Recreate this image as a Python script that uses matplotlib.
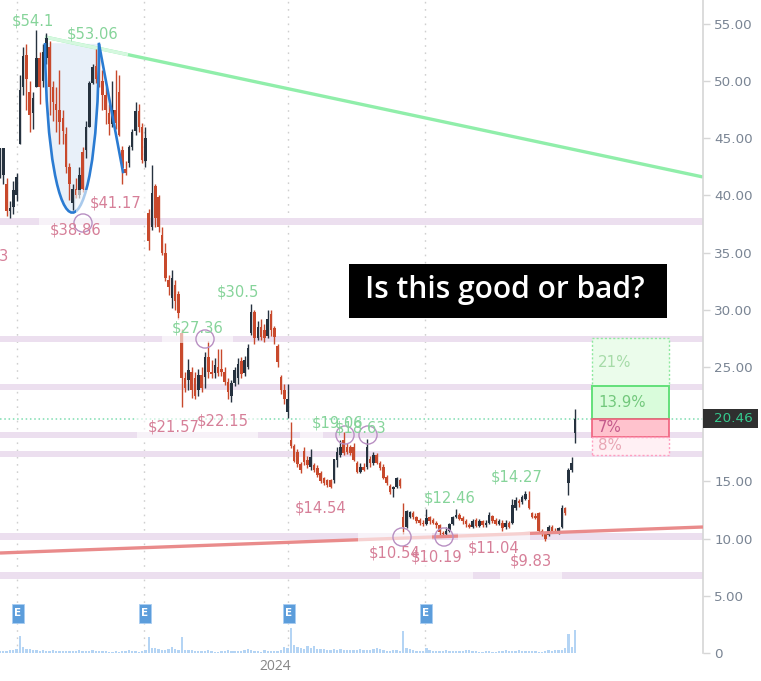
import matplotlib
matplotlib.use("Agg")
import matplotlib.pyplot as plt
from matplotlib.patches import Rectangle, PathPatch
from matplotlib.path import Path
from matplotlib.transforms import blended_transform_factory
import numpy as np

opens = [41.5,41.8,41.0,38.6,39.0,40.0,44.5,49.5,52.3,49.0,
47.2,49.5,52.0,50.0,52.0,53.0,49.5,48.0,47.5,46.8,
45.4,42.5,39.3,40.6,40.0,43.8,44.0,46.0,49.8,51.3,
52.3,50.0,48.8,47.2,46.2,47.5,49.0,44.0,42.3,42.8,
44.2,45.6,47.4,46.0,43.0,38.5,37.2,40.8,39.9,36.5,
35.0,32.6,31.0,32.2,31.4,28.0,24.0,23.9,24.6,24.0,
23.0,24.3,24.1,25.9,24.6,24.5,25.0,24.8,24.6,23.7,
22.5,23.6,24.0,25.5,24.5,25.0,28.0,29.8,27.5,28.5,
28.2,27.7,29.6,28.4,26.8,24.1,23.0,21.1,18.6,18.1,
17.6,16.5,17.7,16.9,16.3,16.4,16.2,15.7,15.3,15.1,
15.1,15.1,16.9,17.3,18.6,18.0,18.0,18.0,16.6,15.8,
16.3,16.3,17.0,16.6,17.3,16.6,16.3,15.4,14.6,14.3,
14.5,15.1,11.9,11.0,11.9,12.2,11.9,11.6,11.4,11.3,
11.9,11.6,11.4,11.2,10.5,10.4,10.7,11.3,11.9,12.1,
11.8,11.5,11.2,11.0,11.6,11.1,11.5,11.2,11.4,12.0,
11.6,11.3,11.4,11.0,11.4,11.4,12.7,13.3,13.2,13.5,
13.4,12.2,12.0,12.2,10.7,10.4,10.3,11.0,10.7,10.5,
11.0,12.7,14.9,16.0,19.2]
closes = [44.1,44.1,38.6,38.9,40.5,41.6,49.2,52.2,50.2,47.0,
48.5,52.0,49.5,52.5,53.8,49.5,48.2,47.5,46.4,45.6,
42.5,41.0,40.6,40.0,41.8,40.6,46.0,49.8,51.2,50.2,
49.8,48.8,47.5,46.2,47.5,46.3,45.3,42.4,42.0,44.2,
45.5,47.4,46.0,43.1,45.0,36.0,40.2,38.0,37.2,35.0,
32.8,32.0,32.8,30.8,29.7,24.0,23.2,24.7,23.0,22.5,
24.3,23.2,25.9,24.6,24.4,25.2,24.5,24.6,23.7,22.8,
23.6,24.7,25.3,24.4,25.6,26.7,29.8,27.5,28.5,27.6,
27.5,29.2,28.2,27.6,25.4,23.0,22.2,22.2,18.1,16.8,
16.5,16.0,16.7,16.4,17.1,16.0,15.6,15.0,14.9,14.7,
14.5,17.0,17.6,18.0,17.5,17.6,17.5,16.9,15.8,16.3,
16.0,18.0,16.6,17.3,16.6,16.2,15.3,14.9,14.1,14.5,
15.3,14.6,11.0,12.4,12.3,11.9,11.5,11.4,11.3,11.8,
11.5,11.4,11.2,10.6,10.4,10.7,11.3,11.9,12.1,11.7,
11.5,11.3,11.0,11.5,11.1,11.5,11.2,11.4,12.1,11.5,
11.3,11.5,10.9,11.4,11.0,12.9,13.4,13.1,13.6,13.9,
12.7,11.9,11.8,10.7,10.5,10.0,11.0,10.6,10.6,10.9,
12.7,12.2,16.0,16.6,20.46]
highs = [44.1,44.1,41.5,39.5,41.3,42.0,50.5,53.0,53.2,50.0,
49.0,54.5,52.5,53.2,54.2,53.5,50.0,49.5,51.0,47.5,
46.0,42.8,41.0,41.5,42.5,44.2,46.5,50.0,51.5,52.8,
53.1,51.0,49.5,48.0,50.0,51.0,50.5,44.3,43.0,44.4,
45.8,48.2,48.0,46.3,46.0,38.8,42.7,41.0,40.0,37.2,
35.8,33.0,33.5,32.6,31.6,28.3,24.6,25.7,25.0,24.6,
24.8,25.0,26.3,27.3,25.6,25.8,26.6,26.6,25.0,24.0,
23.9,25.0,25.8,25.9,26.0,27.0,30.5,30.0,29.0,29.2,
28.8,30.0,30.0,28.6,27.0,24.3,23.5,23.5,20.2,18.3,
17.8,16.7,18.0,17.2,17.8,16.6,16.4,15.9,15.4,15.2,
15.2,17.0,18.0,18.6,19.3,18.4,18.2,18.4,16.8,16.6,
16.6,18.7,17.2,17.6,17.5,16.8,16.5,15.6,14.8,14.6,
15.4,15.3,13.1,12.5,12.4,12.4,12.0,11.8,11.6,12.6,
12.0,11.8,11.5,11.3,10.7,11.0,11.4,12.0,12.6,12.2,
12.0,11.7,11.4,11.7,11.8,11.7,11.6,11.6,12.3,12.1,
11.8,11.7,11.6,11.6,11.5,13.5,13.6,13.5,13.8,14.2,
14.2,12.3,12.2,12.3,10.8,10.6,11.2,11.2,10.9,11.0,
12.9,12.8,16.2,17.1,21.3]
lows = [41.5,41.0,38.2,38.0,38.4,39.5,44.5,48.8,47.5,45.5,
45.8,49.5,48.0,49.5,51.5,47.0,46.5,45.5,44.5,44.5,
42.0,39.6,38.7,39.8,39.8,40.3,43.3,46.0,49.7,49.8,
49.5,47.5,46.2,45.3,46.0,45.8,45.2,41.0,41.8,42.5,
44.0,45.3,45.5,42.8,42.5,35.2,37.0,37.2,36.8,34.8,
32.5,31.3,30.2,30.0,29.2,21.5,22.8,23.0,22.3,22.2,
22.5,22.8,23.2,24.0,24.0,24.0,24.2,24.2,23.4,22.2,
21.9,23.3,23.5,24.0,24.2,24.8,27.8,27.0,27.4,27.4,
27.2,27.5,27.7,27.0,25.0,22.6,21.8,20.5,17.9,16.7,
16.3,15.7,16.4,16.2,16.0,15.8,15.4,14.9,14.7,14.5,
14.4,14.9,16.3,17.1,17.3,17.4,17.3,16.8,15.7,15.7,
15.9,16.1,16.3,16.4,16.5,16.0,15.2,14.7,13.9,13.6,
14.4,14.4,10.4,10.9,11.8,11.7,11.4,11.2,11.1,11.2,
11.3,11.3,10.9,10.3,10.1,10.2,10.6,11.2,11.8,11.6,
11.3,11.0,10.9,10.9,11.0,11.0,11.0,11.0,11.3,11.4,
11.2,11.2,10.7,10.8,10.9,11.3,12.5,12.8,13.0,13.4,
12.6,11.8,11.7,10.6,10.2,9.83,10.2,10.5,10.5,10.4,
10.9,12.1,13.8,15.8,18.4]
volumes = [2,2,2,3,3,4,17,6,4,4,
3,3,2,3,2,2,3,2,2,2,
2,2,2,2,3,2,2,2,3,2,
2,2,2,1,1,2,1,2,2,3,
2,2,1,2,3,16,5,5,4,3,
3,4,6,4,3,16,3,3,3,2,
2,2,2,3,2,1,1,2,2,3,
2,2,2,2,3,4,3,2,2,1,
3,2,2,2,2,3,6,5,25,8,
6,5,4,7,5,7,4,4,4,3,
3,4,3,4,3,3,3,3,3,4,
3,3,3,4,5,4,3,2,2,3,
3,2,22,5,4,3,2,2,2,5,
3,2,2,2,2,3,2,2,2,2,
2,3,3,2,2,1,1,2,2,1,
1,2,2,3,2,2,2,3,2,2,
2,2,2,1,1,2,3,2,3,3,
3,5,19,6,23]

support_levels = [37.7, 27.45, 23.25, 19.05, 17.4, 10.15, 6.75]
last_price = 20.46
price_ticks = [0, 5, 10, 15, 20, 25, 30, 35, 40, 45, 50, 55]
price_tick_labels = ["0", "5.00", "10.00", "15.00", "", "25.00", "30.00", "35.00",
                     "40.00", "45.00", "50.00", "55.00"]
green_labels = [("$54.1", 12, 55.24), ("$53.06", 67, 54.1), ("$30.5", 217, 31.55),
                ("$27.36", 172, 28.4), ("$19.06", 312, 20.1), ("$18.63", 335, 19.67),
                ("$12.46", 424, 13.55), ("$14.27", 491, 15.4)]
red_labels = [("$41.17", 90, 39.3), ("$38.86", 50, 37.0), ("3", -1, 34.7),
              ("$21.57", 148, 19.75), ("$22.15", 197, 20.3), ("$14.54", 295, 12.67),
              ("$10.54", 369, 8.74), ("$10.19", 411, 8.39), ("$11.04", 468, 9.18),
              ("$9.83", 510, 8.04)]

PX = 3.305
W, H = 761, 681
DPI = 100
YPX = 653 / 57.08
def sx(p):
    return p / PX
def py(y):
    return (653 - y) / YPX

assert len(opens) == len(closes) == len(highs) == len(lows) == len(volumes)
idx = np.arange(len(opens))
o, c, hi, lo = map(np.array, (opens, closes, highs, lows))

fig = plt.figure(figsize=(W / DPI, H / DPI), dpi=DPI, facecolor="white")
ax = fig.add_axes([0, (H - 653) / H, 703 / W, 653 / H])
ax.set_xlim(0, sx(703))
ax.set_ylim(0, 57.08)

for s in ("top", "left", "bottom"):
    ax.spines[s].set_visible(False)
ax.spines["right"].set_color("#d6d6d6")
ax.spines["right"].set_linewidth(1.2)
ax.yaxis.tick_right()
ax.set_yticks(price_ticks)
ax.set_yticklabels(price_tick_labels, fontsize=9.7, color="#7a8594")
ax.tick_params(axis="y", length=5, width=1, color="#d6d6d6", pad=3)

earn_px = [17, 144, 288, 425]
ax.set_xticks([sx(p) for p in earn_px])
ax.set_xticklabels([])
ax.tick_params(axis="x", length=0)
ax.grid(axis="x", color="#cfcfcf", ls=(0, (1.2, 4)), lw=1)
ax.set_axisbelow(True)
ax.text(sx(275), py(666), "2024", fontsize=10, color="#868686", fontfamily="Open Sans",
        ha="center", va="center", clip_on=False)

# support bands
for lv in support_levels:
    ax.axhspan(lv - 0.3, lv + 0.3, color="#ecdfef", lw=0, zorder=1)

# cup
cup_verts = [(sx(45), py(43)), (sx(47), py(269)), (sx(98), py(269)), (sx(99), py(44))]
cup_codes = [Path.MOVETO, Path.CURVE4, Path.CURVE4, Path.CURVE4]
ax.add_patch(PathPatch(Path(cup_verts, cup_codes), fc="#e8f0f9", ec="none", zorder=1.5))

# trend lines
ax.plot([sx(45), sx(703)], [py(37), py(177)], color="#90eeaa", lw=2.4, zorder=2, solid_capstyle="butt")
ax.plot([sx(45), sx(128)], [py(37), py(54.7)], color="#d5f8df", lw=2.4, zorder=2.1, solid_capstyle="butt")
ax.plot([0, sx(703)], [py(553), py(527)], color="#e98b8b", lw=2.4, zorder=5, solid_capstyle="butt")

# price line
ax.axhline(last_price, color="#7ddcb0", lw=1.1, ls=(0, (1, 1.8)), zorder=2)

# volume
vax = fig.add_axes(ax.get_position(), sharex=ax, facecolor="none")
vax.set_ylim(0, 653)
vax.bar(idx, volumes, width=0.7, color="#b4d4f4", lw=0)
vax.axis("off")

# candles
ax.vlines(idx, lo, hi, color=np.where(c >= o, "#26323f", "#c8492c"), lw=1.0, zorder=3)
up = c >= o
ax.bar(idx[up], (c - o)[up], bottom=o[up], width=0.78, color="#26323f", lw=0, zorder=3.2)
ax.bar(idx[~up], (o - c)[~up], bottom=c[~up], width=0.78, color="#c8492c", lw=0, zorder=3.2)

# cup outline and neckline
ax.add_patch(PathPatch(Path(cup_verts, cup_codes), fc="none", ec="#2a7bd2", lw=1.9, zorder=4))
ax.plot([sx(99), sx(123)], [py(44), py(172)], color="#2a7bd2", lw=1.9, zorder=4)

# pale label backings
fades = [(39, 110, 218, 238), (76, 145, 190, 216), (162, 233, 318, 343), (137, 186, 415, 440),
         (186, 258, 413, 440), (300, 323, 415, 440), (358, 432, 532, 560),
         (400, 473, 560, 581), (458, 530, 532, 558), (500, 562, 553, 581)]
for x0, x1, y0, y1 in fades:
    ax.add_patch(Rectangle((sx(x0), py(y1)), sx(x1 - x0), py(y0) - py(y1), fc="white",
                           alpha=0.6, lw=0, zorder=6))

# circles
circles = [(83, 223), (205, 339), (345, 435), (368, 435), (402, 537), (444, 537)]
ax.scatter([sx(p[0]) for p in circles], [py(p[1]) for p in circles], s=170,
           facecolors="none", edgecolors="#b88fc2", linewidths=1.0, zorder=7)

# risk/reward boxes
bx0, bx1 = sx(592), sx(668.5)
boxes = [(27.5, 23.3, "#ebfceb", "#8fe89f", (0, (1.5, 1.5)), 1.0, "21%", "#a6dba8"),
         (23.3, last_price, "#d9fcdb", "#63e07a", "-", 1.4, "13.9%", "#72c87c"),
         (last_price, 18.9, "#ffc2cd", "#f0607c", "-", 1.2, "7%", "#c45a8c"),
         (18.9, 17.35, "#fff0f4", "#ff9fc0", (0, (1.5, 1.5)), 1.0, "8%", "#e8a6b4")]
for top, bot, fc, ec, ls, lw, txt, tc in boxes:
    ax.add_patch(Rectangle((bx0, bot), bx1 - bx0, top - bot, fc=fc, ec=ec, ls=ls, lw=lw, zorder=5.5))
    ax.text(sx(598), (top + bot) / 2, txt, color=tc, fontsize=10.8, va="center", ha="left", zorder=8)

# labels
for txt, x, y in green_labels:
    ax.text(sx(x), y, txt, color="#86d49a", fontsize=10.6, va="center", ha="left", zorder=8, clip_on=True)
for txt, x, y in red_labels:
    ax.text(sx(x), y, txt, color="#d67f98", fontsize=10.6, va="center", ha="left", zorder=8, clip_on=True)

# title box
ax.add_patch(Rectangle((sx(349), py(318)), sx(667 - 349), py(264) - py(318), fc="black", lw=0, zorder=9))
ax.text(sx(505), py(290), "Is this good or bad?", color="white", fontsize=21.5,
        fontfamily="Open Sans", fontweight="semibold", ha="center", va="center", zorder=10)

# earnings markers
for p in earn_px:
    ax.add_patch(Rectangle((sx(p - 5), py(623)), sx(12), py(604) - py(623), fc="#5c9ddb",
                           ec="#a9cdf2", lw=0.6, zorder=8))
    ax.text(sx(p + 1), py(613.5), "E", color="white", fontsize=7.5, fontweight="bold",
            ha="center", va="center", zorder=9)

# last price tag
tr = blended_transform_factory(ax.transAxes, ax.transData)
ax.add_patch(Rectangle((1.0, last_price - 0.83), 55 / 703, 1.66, transform=tr, fc="#2f2f2f",
                       lw=0, clip_on=False, zorder=9))
ax.text(714 / 703, last_price, f"{last_price:.2f}", transform=tr, color="#35c98e", fontsize=9.7,
        va="center", ha="left", zorder=10, clip_on=False)

fig.savefig("out.png", dpi=DPI, facecolor="white")
